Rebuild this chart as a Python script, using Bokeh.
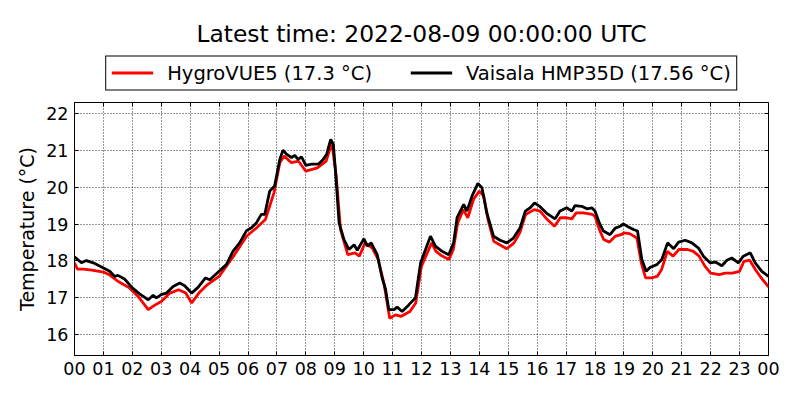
from bokeh.plotting import figure
from bokeh.layouts import column
from bokeh.models import Range1d, FixedTicker, LinearAxis, Legend, LegendItem
from bokeh.embed import file_html
from bokeh.resources import INLINE

title_text = "Latest time: 2022-08-09 00:00:00 UTC"
series_labels = ["HygroVUE5 (17.3 °C)", "Vaisala HMP35D (17.56 °C)"]
series_colors = ["red", "black"]

hour_ticks = list(range(25))
hour_labels = ["00", "01", "02", "03", "04", "05", "06", "07", "08", "09", "10", "11",
               "12", "13", "14", "15", "16", "17", "18", "19", "20", "21", "22", "23", "00"]
temp_ticks = [16, 17, 18, 19, 20, 21, 22]

red_hours = [0.0, 0.1, 0.3, 0.6, 1.0, 1.2, 1.5, 1.9, 2.2, 2.55, 2.75, 3.0, 3.3, 3.6, 3.85,
             4.05, 4.3, 4.6, 5.0, 5.5, 5.95, 6.3, 6.6, 6.9, 7.1, 7.25, 7.5, 7.75, 8.0, 8.4,
             8.7, 8.9, 9.05, 9.2, 9.45, 9.7, 9.85, 10.05, 10.3, 10.5, 10.7, 10.9, 11.1, 11.3,
             11.6, 11.8, 12.0, 12.2, 12.35, 12.5, 12.7, 12.95, 13.1, 13.25, 13.45, 13.6, 13.8,
             14.0, 14.15, 14.3, 14.5, 14.75, 14.95, 15.2, 15.4, 15.6, 15.9, 16.1, 16.35, 16.6,
             16.8, 17.0, 17.2, 17.35, 17.6, 17.9, 18.0, 18.15, 18.3, 18.5, 18.7, 18.9, 19.0,
             19.2, 19.45, 19.6, 19.75, 19.95, 20.15, 20.3, 20.5, 20.7, 20.9, 21.2, 21.4, 21.6,
             21.8, 22.0, 22.3, 22.5, 22.75, 23.0, 23.15, 23.35, 23.55, 23.75, 24.0]
red_temps = [17.95, 17.78, 17.78, 17.75, 17.70, 17.63, 17.45, 17.27, 17.04, 16.68, 16.79, 16.90,
             17.13, 17.22, 17.13, 16.86, 17.13, 17.36, 17.58, 18.13, 18.67, 18.90, 19.12, 19.85,
             20.66, 20.84, 20.66, 20.70, 20.43, 20.52, 20.70, 21.20, 20.30, 18.85, 18.17, 18.22,
             18.13, 18.49, 18.35, 18.04, 17.40, 16.45, 16.54, 16.50, 16.63, 16.86, 17.86, 18.22,
             18.49, 18.26, 18.14, 18.04, 18.31, 19.03, 19.39, 19.17, 19.67, 19.89, 19.76, 19.12,
             18.53, 18.42, 18.33, 18.49, 18.76, 19.26, 19.39, 19.35, 19.12, 18.94, 19.17, 19.17,
             19.14, 19.30, 19.30, 19.26, 19.21, 18.85, 18.58, 18.51, 18.67, 18.71, 18.76, 18.74,
             18.62, 17.95, 17.54, 17.54, 17.58, 17.76, 18.26, 18.13, 18.31, 18.31, 18.26, 18.13,
             17.86, 17.67, 17.63, 17.67, 17.67, 17.72, 17.99, 18.02, 17.76, 17.54, 17.30]

black_hours = [0.0, 0.24, 0.41, 0.65, 1.0, 1.22, 1.39, 1.5, 1.73, 2.0, 2.26, 2.55, 2.72, 2.83,
               3.0, 3.18, 3.41, 3.64, 3.81, 4.05, 4.28, 4.53, 4.68, 5.0, 5.25, 5.48, 5.71, 5.95,
               6.12, 6.29, 6.46, 6.58, 6.75, 6.92, 7.1, 7.21, 7.33, 7.5, 7.62, 7.73, 7.85, 8.0,
               8.2, 8.43, 8.6, 8.72, 8.86, 8.95, 9.03, 9.15, 9.32, 9.49, 9.67, 9.78, 10.01, 10.13,
               10.26, 10.47, 10.64, 10.76, 10.87, 11.05, 11.16, 11.33, 11.56, 11.79, 11.97, 12.14,
               12.31, 12.48, 12.71, 12.94, 13.11, 13.23, 13.46, 13.57, 13.75, 13.95, 14.09, 14.26,
               14.49, 14.72, 14.95, 15.18, 15.41, 15.59, 15.76, 15.91, 16.1, 16.33, 16.62, 16.79,
               17.02, 17.2, 17.31, 17.54, 17.72, 17.89, 18.0, 18.15, 18.29, 18.52, 18.7, 18.87,
               18.98, 19.16, 19.33, 19.47, 19.62, 19.77, 19.91, 20.14, 20.31, 20.51, 20.72, 20.89,
               21.12, 21.35, 21.58, 21.75, 21.98, 22.16, 22.39, 22.56, 22.73, 22.96, 23.13, 23.37,
               23.54, 23.77, 24.0]
black_temps = [18.11, 17.95, 18.01, 17.95, 17.81, 17.72, 17.58, 17.61, 17.51, 17.27, 17.10, 16.95,
               17.07, 17.0, 17.09, 17.13, 17.31, 17.40, 17.33, 17.13, 17.29, 17.54, 17.49, 17.72,
               17.90, 18.26, 18.49, 18.82, 18.90, 19.03, 19.26, 19.26, 19.89, 20.03, 20.75, 21.0,
               20.89, 20.80, 20.86, 20.75, 20.82, 20.59, 20.62, 20.62, 20.75, 20.89, 21.29, 21.16,
               20.39, 19.03, 18.58, 18.31, 18.44, 18.29, 18.60, 18.40, 18.49, 18.17, 17.54, 17.22,
               16.68, 16.68, 16.75, 16.63, 16.81, 17.0, 17.95, 18.31, 18.67, 18.40, 18.26, 18.17,
               18.49, 19.17, 19.53, 19.35, 19.76, 20.10, 19.98, 19.30, 18.67, 18.56, 18.49, 18.62,
               18.90, 19.35, 19.44, 19.57, 19.47, 19.29, 19.14, 19.35, 19.44, 19.35, 19.50, 19.48,
               19.41, 19.44, 19.35, 19.03, 18.81, 18.71, 18.89, 18.94, 19.0, 18.92, 18.85, 18.81,
               18.04, 17.72, 17.83, 17.90, 18.04, 18.49, 18.33, 18.51, 18.56, 18.49, 18.35, 18.13,
               17.95, 17.97, 17.87, 18.02, 18.08, 17.95, 18.13, 18.22, 17.95, 17.72, 17.58]

FONT = "DejaVu Sans"
LW = 2.8

# ---- header figure: title + legend (its lines fall outside its own ranges) ----
head = figure(width=800, height=98, output_backend="svg", toolbar_location=None,
              x_range=Range1d(0, 24), y_range=Range1d(0, 1),
              x_axis_location=None, y_axis_location=None,
              min_border_left=74, min_border_right=32, min_border_top=47, min_border_bottom=0,
              background_fill_color="white", border_fill_color="white")
head.outline_line_color = None
head.xgrid.visible = False
head.ygrid.visible = False
head.title.text = title_text
head.title.align = "center"
head.title.text_font = FONT
head.title.text_font_size = "23.4px"
head.title.text_font_style = "normal"
head.title.text_color = "black"
head.title.standoff = 0

h_red = head.line(red_hours, red_temps, line_color=series_colors[0], line_width=LW)
h_black = head.line(black_hours, black_temps, line_color=series_colors[1], line_width=LW)
legend = Legend(items=[LegendItem(label=series_labels[0], renderers=[h_red]),
                       LegendItem(label=series_labels[1], renderers=[h_black])],
                orientation="horizontal", location="center",
                label_text_font=FONT, label_text_font_size="19.5px", label_text_color="black",
                glyph_width=42, label_standoff=14, spacing=38, padding=5, margin=0,
                border_line_color="black", border_line_width=1.2, border_line_alpha=1,
                background_fill_color="white", background_fill_alpha=1)
head.add_layout(legend, "center")

# ---- main chart ----
p = figure(width=800, height=302, output_backend="svg", toolbar_location=None,
           x_range=Range1d(0, 24), y_range=Range1d(15.44, 22.29),
           min_border_left=74, min_border_right=32, min_border_top=4, min_border_bottom=45,
           background_fill_color="white", border_fill_color="white")

p.outline_line_color = "black"
p.outline_line_width = 1
p.outline_line_alpha = 1

p.line(red_hours, red_temps, line_color=series_colors[0], line_width=LW)
p.line(black_hours, black_temps, line_color=series_colors[1], line_width=LW)

xt = FixedTicker(ticks=hour_ticks)
yt = FixedTicker(ticks=temp_ticks)

for ax in p.xaxis:
    ax.ticker = xt
    ax.major_label_overrides = {t: lab for t, lab in zip(hour_ticks, hour_labels)}
for ax in p.yaxis:
    ax.ticker = yt
    ax.axis_label = "Temperature (°C)"
    ax.axis_label_text_font = FONT
    ax.axis_label_text_font_size = "19px"
    ax.axis_label_text_font_style = "normal"
    ax.axis_label_text_color = "black"
    ax.axis_label_standoff = 5

for ax in list(p.xaxis) + list(p.yaxis):
    ax.major_label_text_font = FONT
    ax.major_label_text_font_size = "17.5px"
    ax.major_label_text_color = "black"
    ax.major_tick_in = 4
    ax.major_tick_out = 0
    ax.major_tick_line_color = "black"
    ax.minor_tick_line_color = None
    ax.axis_line_color = "black"
    ax.major_label_standoff = 6

for g, t in ((p.xgrid, xt), (p.ygrid, yt)):
    g.ticker = t
    g.grid_line_color = "black"
    g.grid_line_dash = "1 2"
    g.grid_line_width = 1
    g.grid_line_alpha = 0.8

top_axis = LinearAxis(ticker=xt, major_tick_in=4, major_tick_out=0, major_tick_line_color="black",
                      minor_tick_line_color=None, axis_line_color=None,
                      major_label_text_color=None, major_label_text_font_size="1px",
                      major_label_standoff=0)
right_axis = LinearAxis(ticker=yt, major_tick_in=4, major_tick_out=0, major_tick_line_color="black",
                        minor_tick_line_color=None, axis_line_color=None,
                        major_label_text_color=None, major_label_text_font_size="1px",
                        major_label_standoff=0)
p.add_layout(top_axis, "above")
p.add_layout(right_axis, "right")

layout = column(head, p, spacing=0)

open("out.html", "w").write(file_html(layout, INLINE))
